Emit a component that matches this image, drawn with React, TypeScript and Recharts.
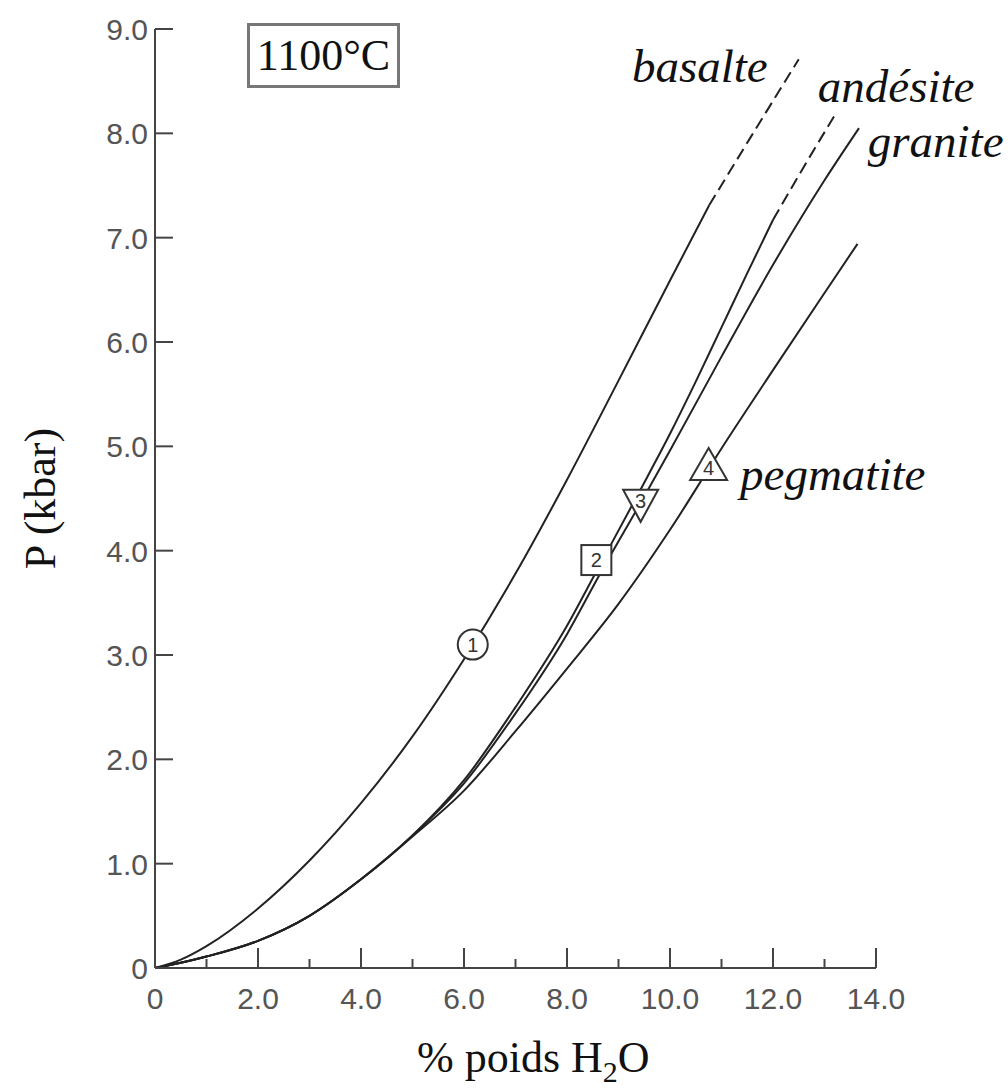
import React from 'react'
import { ComposedChart, Line, XAxis, YAxis, ReferenceDot, Label } from 'recharts'

// % poids H2O ticks and P (kbar) ticks
const xTicks = [0, 1, 2, 3, 4, 5, 6, 7, 8, 9, 10, 11, 12, 13, 14]
const yTicks = [0, 1, 2, 3, 4, 5, 6, 7, 8, 9]

// solubility curves at 1100°C
const basalteX = [0, 0.5, 1, 2, 3, 4, 5, 6, 7, 8, 9, 10, 10.76]
const basalteP = [0, 0.08, 0.21, 0.57, 1.03, 1.58, 2.22, 2.96, 3.78, 4.68, 5.63, 6.59, 7.31]
const basalteDashX = [10.76, 11.6, 12.5]
const basalteDashP = [7.31, 7.99, 8.71]

const andesiteX = [0, 0.5, 1, 2, 3, 4, 5, 6, 7, 8, 8.57, 9.4, 10, 10.5, 11, 11.5, 12]
const andesiteP = [0, 0.05, 0.11, 0.26, 0.5, 0.85, 1.27, 1.8, 2.5, 3.28, 3.8, 4.56, 5.12, 5.62, 6.14, 6.66, 7.17]
const andesiteDashX = [12, 12.6, 13.22]
const andesiteDashP = [7.17, 7.68, 8.19]

const graniteX = [0, 0.5, 1, 2, 3, 4, 5, 6, 7, 8, 8.6, 9.5, 10, 11, 12, 13, 13.67]
const graniteP = [0, 0.05, 0.11, 0.26, 0.5, 0.85, 1.27, 1.77, 2.44, 3.2, 3.74, 4.52, 4.96, 5.86, 6.74, 7.55, 8.05]

const pegmatiteX = [0, 0.5, 1, 2, 3, 4, 5, 6, 7, 8, 9, 10, 11, 12, 13, 13.64]
const pegmatiteP = [0, 0.05, 0.11, 0.26, 0.5, 0.85, 1.26, 1.7, 2.27, 2.87, 3.49, 4.2, 4.98, 5.73, 6.47, 6.94]

// numbered markers on the curves
const markerX = [6.17, 8.57, 9.43, 10.75]
const markerP = [3.1, 3.91, 4.43, 4.83]
const markerNames = ['1', '2', '3', '4']

const toRows = (xs: number[], ps: number[]) => xs.map((x, i) => ({ x, p: ps[i] }))

const serif = '"Liberation Serif", "Times New Roman", serif'
const sans = '"Liberation Sans", Arial, sans-serif'
const ink = '#222'

function XTick({ x, y, payload }: any) {
  const v = payload.value as number
  const major = v % 2 === 0
  return (
    <g>
      {v > 0 && <line x1={x} x2={x} y1={y} y2={y - (major ? 20 : 9)} stroke="#444" strokeWidth={2} />}
      {major && (
        <text x={x} y={y + 41} textAnchor="middle" fontSize={30} fill="#555" fontFamily={sans}>
          {v === 0 ? '0' : v.toFixed(1)}
        </text>
      )}
    </g>
  )
}

function YTick({ x, y, payload }: any) {
  const v = payload.value as number
  return (
    <g>
      {v > 0 && <line x1={x} x2={x + 18} y1={y} y2={y} stroke="#444" strokeWidth={2} />}
      <text x={x - 7} y={y + 11} textAnchor="end" fontSize={30} fill="#555" fontFamily={sans}>
        {v === 0 ? '0' : v.toFixed(1)}
      </text>
    </g>
  )
}

function Marker({ cx, cy, idx }: any) {
  const common = { fill: '#fff', stroke: '#333', strokeWidth: 2 }
  let shape: React.ReactNode = null
  let ty = cy + 7
  if (idx === 0) shape = <circle cx={cx} cy={cy} r={15} {...common} />
  if (idx === 1) shape = <rect x={cx - 15} y={cy - 15} width={30} height={30} {...common} />
  if (idx === 2) {
    shape = <polygon points={`${cx - 17.5},${cy - 16} ${cx + 17.5},${cy - 16} ${cx},${cy + 16}`} {...common} />
    ty = cy + 2
  }
  if (idx === 3) {
    shape = <polygon points={`${cx - 18.5},${cy + 16} ${cx + 18.5},${cy + 16} ${cx},${cy - 16}`} {...common} />
    ty = cy + 11
  }
  return (
    <g>
      {shape}
      <text x={cx} y={ty} textAnchor="middle" fontSize={20} fill="#333" fontFamily={sans}>
        {markerNames[idx]}
      </text>
    </g>
  )
}

function CurveName({ cx, cy, text }: any) {
  return (
    <text x={cx} y={cy} fontSize={47} fontStyle="italic" fill="#111" fontFamily={serif}>
      {text}
    </text>
  )
}

function XTitle({ viewBox }: any) {
  const { x, y } = viewBox
  return (
    <text x={x + 262} y={y + 104} fontSize={44} fill="#111" fontFamily={serif}>
      % poids H
      <tspan fontSize={30} dy={10}>2</tspan>
      <tspan dy={-10}>O</tspan>
    </text>
  )
}

function YTitle({ viewBox }: any) {
  const { y, height } = viewBox
  const cy = y + height / 2
  return (
    <text x={55} y={cy} transform={`rotate(-90 55 ${cy})`} textAnchor="middle" fontSize={44} fill="#111" fontFamily={serif}>
      P (kbar)
    </text>
  )
}

export default function App() {
  const solid = { type: 'monotone' as const, dataKey: 'p', stroke: ink, strokeWidth: 2, dot: false, isAnimationActive: false }
  const dashed = { ...solid, strokeDasharray: '12 6' }

  return (
    <div style={{ position: 'absolute', left: 0, top: 0, width: 1008, height: 1090, background: '#fff' }}>
      <ComposedChart width={1008} height={1090} margin={{ top: 29, right: 132, bottom: 0, left: 0 }}>
        <XAxis
          type="number"
          dataKey="x"
          domain={[0, 14]}
          ticks={xTicks}
          interval={0}
          height={122}
          tickSize={0}
          tickMargin={0}
          tickLine={false}
          tick={<XTick />}
          axisLine={{ stroke: '#444', strokeWidth: 2 }}
        >
          <Label content={<XTitle />} />
        </XAxis>
        <YAxis
          type="number"
          domain={[0, 9]}
          ticks={yTicks}
          interval={0}
          width={155}
          tickSize={0}
          tickMargin={0}
          tickLine={false}
          tick={<YTick />}
          axisLine={{ stroke: '#444', strokeWidth: 2 }}
        >
          <Label content={<YTitle />} />
        </YAxis>

        <Line {...solid} data={toRows(basalteX, basalteP)} />
        <Line {...dashed} data={toRows(basalteDashX, basalteDashP)} />
        <Line {...solid} data={toRows(andesiteX, andesiteP)} />
        <Line {...dashed} data={toRows(andesiteDashX, andesiteDashP)} />
        <Line {...solid} data={toRows(graniteX, graniteP)} />
        <Line {...solid} data={toRows(pegmatiteX, pegmatiteP)} />

        {markerX.map((mx, i) => (
          <ReferenceDot key={i} x={mx} y={markerP[i]} r={15} shape={(props: any) => <Marker {...props} idx={i} />} />
        ))}

        <ReferenceDot x={9.26} y={8.49} r={1} shape={(props: any) => <CurveName {...props} text="basalte" />} />
        <ReferenceDot x={12.87} y={8.3} r={1} shape={(props: any) => <CurveName {...props} text="andésite" />} />
        <ReferenceDot x={13.84} y={7.77} r={1} shape={(props: any) => <CurveName {...props} text="granite" />} />
        <ReferenceDot x={11.36} y={4.58} r={1} shape={(props: any) => <CurveName {...props} text="pegmatite" />} />
      </ComposedChart>
      <div
        style={{
          position: 'absolute',
          left: 247,
          top: 23,
          width: 147,
          height: 59,
          border: '3px solid #777',
          fontFamily: serif,
          fontSize: 44,
          lineHeight: '59px',
          textAlign: 'center',
          color: '#111',
        }}
      >
        1100°C
      </div>
    </div>
  )
}
